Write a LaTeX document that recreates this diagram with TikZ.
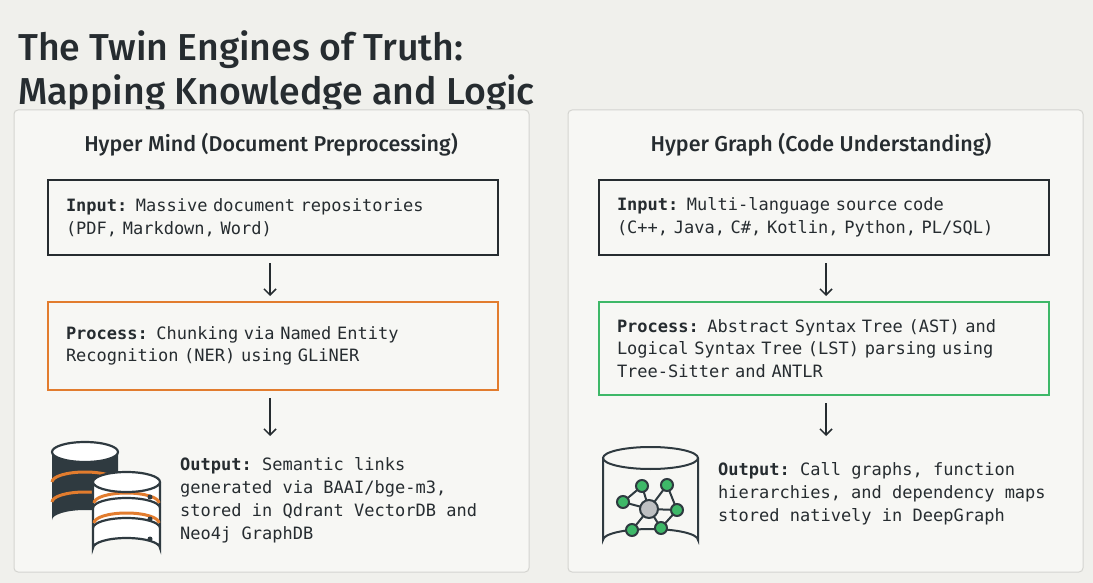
\documentclass[tikz,border=0pt]{standalone}
\usepackage{fontspec}
\setmainfont{Fira Sans Medium}
\setmonofont{DejaVu Sans Mono}
\usetikzlibrary{arrows.meta,positioning}
\definecolor{bgcolor}{RGB}{240,240,236}
\definecolor{panelcolor}{RGB}{247,247,244}
\definecolor{panelline}{RGB}{212,212,208}
\definecolor{inkcolor}{RGB}{38,44,48}
\definecolor{darkslate}{RGB}{47,58,64}
\definecolor{hmorange}{RGB}{226,124,46}
\definecolor{hggreen}{RGB}{62,184,104}
\definecolor{nodegray}{RGB}{190,192,194}

\tikzset{
  panel/.style={draw=panelline,fill=panelcolor,rounded corners=4pt,line width=1pt},
  heading/.style={font=\fontsize{21.5}{25}\selectfont,text=inkcolor},
  stepbox/.style={draw=#1,line width=2pt,fill=panelcolor,text width=414pt,
    inner xsep=18pt,inner ysep=8pt,align=left,minimum height=75pt,
    font=\ttfamily\fontsize{17}{22.5}\selectfont,text=inkcolor},
  outtext/.style={align=left,anchor=west,inner sep=0pt,
    font=\ttfamily\fontsize{17}{23}\selectfont,text=inkcolor},
  flow/.style={-{Straight Barb[length=6pt,width=12pt]},line width=1.5pt,inkcolor,
    shorten <=7pt,shorten >=5pt},
}

\begin{document}
\begin{tikzpicture}[x=1pt,y=-1pt]
  \useasboundingbox (0,0) rectangle (1093,583);
  \fill[bgcolor] (0,0) rectangle (1093,583);

  % title
  \node[anchor=west,inner sep=0pt,text=inkcolor,align=left,
    font=\fontsize{37.5}{44}\selectfont] (title) at (18,72)
    {The Twin Engines of Truth:\\Mapping Knowledge and Logic};

  % panels
  \draw[panel] (14,110) rectangle (529,572);
  \draw[panel] (568,110) rectangle (1083,572);

  % Hyper Mind
  \node[heading] (hmhead) at (271,145) {Hyper Mind (Document Preprocessing)};
  \node[stepbox=inkcolor,minimum height=75pt] (hmin) at (273,217.5)
    {\textbf{Input:} Massive document repositories\\(PDF, Markdown, Word)};
  \node[stepbox=hmorange,minimum height=88pt] (hmproc) at (273,346)
    {\textbf{Process:} Chunking via Named Entity\\Recognition (NER) using GLiNER};
  \coordinate (hmend) at (270,436);
  \draw[flow] ([xshift=-3pt]hmin.south) -- ([xshift=-3pt]hmproc.north);
  \draw[flow,shorten >=0pt] ([xshift=-3pt]hmproc.south) -- (hmend);
  \node[outtext] (hmout) at (180,500)
    {\textbf{Output:} Semantic links\\generated via BAAI/bge-m3,\\stored in Qdrant VectorDB and\\Neo4j GraphDB};

  % database icon, back
  \begin{scope}[line width=2.2pt]
    \fill[darkslate] (52,452) -- (52,520) arc[start angle=180,end angle=360,x radius=33,y radius=10]
      -- (118,452) -- cycle;
    \draw[hmorange,line width=3pt] (52,482) arc[start angle=180,end angle=360,x radius=33,y radius=10];
    \draw[hmorange,line width=3pt] (52,502) arc[start angle=180,end angle=360,x radius=33,y radius=10];
    \filldraw[fill=white,draw=darkslate] (85,452) ellipse[x radius=33,y radius=10];
    % front
    \filldraw[fill=white,draw=darkslate] (93,482) -- (93,548) arc[start angle=180,end angle=360,x radius=33.5,y radius=10]
      -- (160,482);
    \draw[darkslate] (93,508) arc[start angle=180,end angle=360,x radius=33.5,y radius=10];
    \draw[darkslate] (93,528) arc[start angle=180,end angle=360,x radius=33.5,y radius=10];
    \draw[hmorange,line width=3pt] (94,503) arc[start angle=180,end angle=360,x radius=32.5,y radius=10];
    \draw[hmorange,line width=3pt] (94,523) arc[start angle=180,end angle=360,x radius=32.5,y radius=10];
    \filldraw[fill=white,draw=darkslate] (126.5,482) ellipse[x radius=33.5,y radius=10];
    \foreach \dy in {497,519,539} \fill[darkslate] (150,\dy) circle (2.5pt);
  \end{scope}

  % Hyper Graph
  \node[heading] (hghead) at (821,145) {Hyper Graph (Code Understanding)};
  \node[stepbox=inkcolor] (hgin) at (824,217.5)
    {\textbf{Input:} Multi-language source code\\(C++, Java, C\#, Kotlin, Python, PL/SQL)};
  \node[stepbox=hggreen,minimum height=93pt] (hgproc) at (824,348.5)
    {\textbf{Process:} Abstract Syntax Tree (AST) and\\Logical Syntax Tree (LST) parsing using\\Tree-Sitter and ANTLR};
  \coordinate (hgend) at (826,436);
  \draw[flow] ([xshift=2pt]hgin.south) -- ([xshift=2pt]hgproc.north);
  \draw[flow,shorten >=0pt] ([xshift=2pt]hgproc.south) -- (hgend);
  \node[outtext] (hgout) at (718,494)
    {\textbf{Output:} Call graphs, function\\hierarchies, and dependency maps\\stored natively in DeepGraph};

  % graph database icon
  \begin{scope}[line width=2pt,draw=darkslate]
    \draw (603,458) -- (603,540) arc[start angle=180,end angle=360,x radius=47.5,y radius=11] -- (698,458);
    \draw (650.5,458) ellipse[x radius=47.5,y radius=11];
    \coordinate (gc) at (649,509);
    \coordinate (g1) at (623,502);
    \coordinate (g2) at (642,486);
    \coordinate (g3) at (667,485);
    \coordinate (g4) at (677,510);
    \coordinate (g5) at (632,530);
    \coordinate (g6) at (661,528);
    \foreach \g in {g1,g2,g3,g4,g5,g6} \draw (gc) -- (\g);
    \draw (g1) -- (g2) (g3) -- (g4) -- (g6);
    \filldraw[fill=nodegray] (gc) circle (9pt);
    \foreach \g in {g1,g2,g3,g4,g5,g6} \filldraw[fill=hggreen] (\g) circle (6pt);
  \end{scope}
\end{tikzpicture}
\end{document}
